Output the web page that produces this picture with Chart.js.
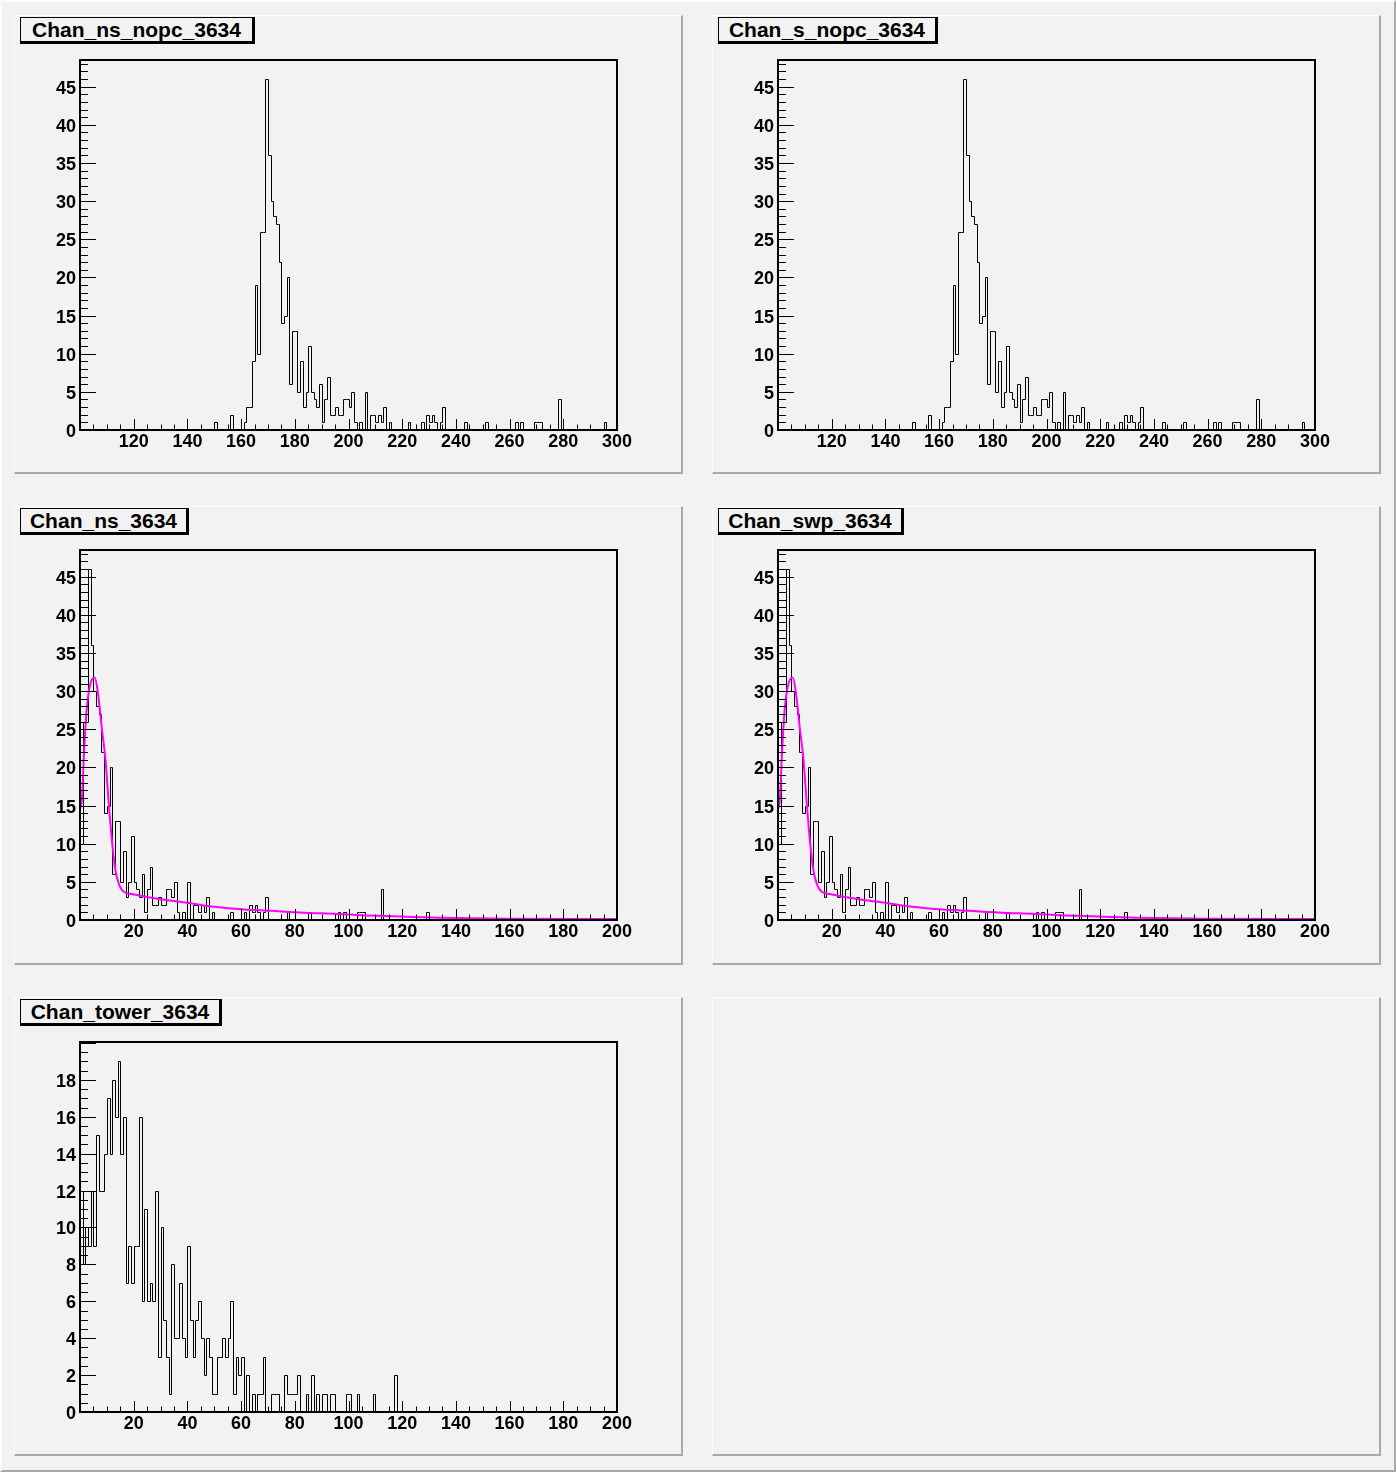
<!DOCTYPE html>
<html>
<head>
<meta charset="utf-8">
<title>Chan 3634</title>
<script src="https://cdn.jsdelivr.net/npm/chart.js"></script>
<style>
  html, body { margin: 0; padding: 0; background: #f2f2f2; }
  #cv { position: relative; width: 1396px; height: 1472px; box-sizing: border-box;
        border-top: 2px solid #fcfcfc; border-left: 2px solid #fcfcfc;
        border-right: 2px solid #a9a9a9; border-bottom: 2px solid #a9a9a9; }
  .pad { position: absolute; width: 669px; height: 459px; box-sizing: border-box; background: #f2f2f2;
         border-top: 1px solid #fcfcfc; border-left: 1px solid #fcfcfc;
         border-right: 2px solid #a9a9a9; border-bottom: 2px solid #a9a9a9; }
  canvas { position: absolute; }
  .title { position: absolute; height: 27px; box-sizing: border-box; background: #f2f2f2;
           border: 1px solid #000; border-right-width: 3px; border-bottom-width: 3px;
           font: bold 21px "Liberation Sans", Arial, sans-serif; line-height: 23px; text-align: center; color: #000; }
</style>
</head>
<body>
<div id="cv">
  <div class="pad" style="left:12px;top:13px"></div>
  <div class="pad" style="left:710px;top:13px"></div>
  <div class="pad" style="left:12px;top:504px"></div>
  <div class="pad" style="left:710px;top:504px"></div>
  <div class="pad" style="left:12px;top:995px"></div>
  <div class="pad" style="left:710px;top:995px"></div>

  <canvas id="h1" width="669" height="459" style="left:12px;top:13px"></canvas>
  <canvas id="h2" width="669" height="459" style="left:710px;top:13px"></canvas>
  <canvas id="h3" width="669" height="459" style="left:12px;top:503px"></canvas>
  <canvas id="h4" width="669" height="459" style="left:710px;top:503px"></canvas>
  <canvas id="h5" width="669" height="459" style="left:12px;top:995px"></canvas>

  <div class="title" style="left:18px;top:15px;width:235px">Chan_ns_nopc_3634</div>
  <div class="title" style="left:716px;top:15px;width:220px">Chan_s_nopc_3634</div>
  <div class="title" style="left:18px;top:506px;width:169px">Chan_ns_3634</div>
  <div class="title" style="left:716px;top:506px;width:186px">Chan_swp_3634</div>
  <div class="title" style="left:18px;top:997px;width:202px">Chan_tower_3634</div>
</div>
<script>
    // ---- data (bin low edge, width 1) ----
    // Chan_ns_nopc_3634 (Chan_s_nopc_3634 looks identical)
    const nopcRange = [100, 300];
    const nopcBins = [150, 156, 161, 162, 163, 164, 165, 166, 167, 168,
                      169, 170, 171, 172, 173, 174, 175, 176, 177, 178,
                      179, 180, 181, 182, 183, 184, 185, 186, 187, 188,
                      189, 190, 191, 192, 193, 194, 195, 196, 197, 198,
                      199, 200, 201, 202, 204, 206, 208, 209, 210, 211,
                      212, 213, 215, 222, 227, 229, 230, 231, 232, 234,
                      235, 243, 251, 262, 264, 269, 270, 271, 278, 295];
    const nopcCounts = [1, 2, 1, 3, 3, 9, 19, 10, 26, 26,
                        46, 36, 30, 28, 27, 22, 14, 15, 20, 6,
                        13, 13, 5, 9, 3, 5, 11, 5, 4, 3,
                        6, 1, 4, 7, 2, 2, 3, 2, 2, 4,
                        4, 3, 5, 1, 1, 5, 2, 2, 1, 2,
                        1, 3, 1, 1, 1, 2, 1, 2, 1, 1,
                        3, 1, 1, 1, 1, 1, 1, 1, 4, 1];

    // Chan_ns_3634 (Chan_swp_3634 looks identical)
    const nsRange = [0, 200];
    const nsBins = [0, 1, 2, 3, 4, 5, 6, 7, 8, 9,
                    10, 11, 12, 13, 14, 15, 16, 17, 18, 19,
                    20, 21, 22, 23, 24, 25, 26, 27, 28, 29,
                    30, 31, 32, 33, 34, 35, 36, 38, 40, 42,
                    43, 44, 45, 46, 47, 49, 56, 61, 63, 64,
                    65, 66, 68, 69, 77, 85, 96, 98, 103, 104,
                    105, 112, 129];
    const nsCounts = [10, 26, 26, 46, 36, 30, 28, 27, 22, 14,
                      15, 20, 6, 13, 13, 5, 9, 3, 5, 11,
                      5, 4, 3, 6, 1, 4, 7, 2, 2, 3,
                      2, 2, 4, 4, 3, 5, 1, 1, 5, 2,
                      2, 1, 2, 1, 3, 1, 1, 1, 2, 1,
                      2, 1, 1, 3, 1, 1, 1, 1, 1, 1,
                      1, 4, 1];
    // fitted curve (magenta)
    const fitX = [0, 0.75, 1.5, 2.6, 3.9, 5.5, 6.7, 8.2, 9.5, 10.7, 12, 13.2, 14.4, 16.3, 19.4,
                  24.4, 30.6, 39.2, 46.2, 58.7, 71.1, 83.5, 95.9, 105, 117, 134, 159, 200];
    const fitY = [14.5, 16, 22, 28, 31, 31.8, 29.7, 24.9, 21, 15.3, 10, 6.5, 4.8, 3.7, 3.4,
                  3.05, 2.7, 2.3, 1.9, 1.45, 1.2, 0.95, 0.8, 0.62, 0.48, 0.3, 0.18, 0.13];

    // Chan_tower_3634, consecutive bins starting at 0
    const towerRange = [0, 200];
    const towerCounts = [12, 8, 10, 9, 12, 9, 15, 12, 12, 14,
                         17, 14, 18, 16, 19, 14, 16, 7, 9, 7,
                         9, 9, 16, 6, 11, 6, 7, 6, 12, 3,
                         10, 5, 3, 1, 8, 4, 4, 7, 4, 3,
                         9, 5, 3, 5, 6, 4, 2, 4, 3, 1,
                         1, 3, 3, 4, 3, 4, 6, 1, 3, 2,
                         3, 0, 2, 0, 1, 0, 1, 1, 3, 0,
                         0, 1, 1, 1, 0, 0, 2, 1, 1, 1,
                         1, 2, 0, 0, 1, 0, 2, 0, 1, 0,
                         1, 1, 0, 1, 1, 0, 0, 0, 0, 1,
                         1, 0, 0, 1, 0, 0, 0, 0, 0, 1,
                         0, 0, 0, 0, 0, 0, 0, 2];
    const towerBins = towerCounts.map((c, i) => i);

    // ---- helpers ----
    function histPoints(range, bins, counts) {
        const map = {};
        bins.forEach((b, i) => { map[b] = counts[i]; });
        const pts = [{x: range[0], y: 0}];
        for (let b = range[0]; b < range[1]; b++) pts.push({x: b, y: map[b] || 0});
        pts.push({x: range[1], y: 0});
        return pts;
    }

    function isMult(v, step) {
        return Math.abs(v / step - Math.round(v / step)) < 1e-6;
    }

    // snap histogram outline to the pixel grid so it stays a crisp 1px line
    const crispSteps = {
        id: 'crispSteps',
        beforeDatasetsDraw(chart) {
            chart.getSortedVisibleDatasetMetas().forEach(meta => {
                if (!meta.dataset || !meta.dataset.options.stepped) return;
                meta.data.forEach(p => {
                    p.x = Math.round(p.x) + 0.5;
                    p.y = Math.round(p.y) + 0.5;
                });
            });
        }
    };

    // ROOT style frame + inward ticks
    const rootFrame = {
        id: 'rootFrame',
        afterDatasetsDraw(chart, args, o) {
            const ctx = chart.ctx, a = chart.chartArea;
            const x = chart.scales.x, y = chart.scales.y;
            ctx.save();
            ctx.strokeStyle = '#000';
            ctx.lineWidth = 1;
            ctx.beginPath();
            for (let v = x.min; v <= x.max + 1e-9; v += o.xMinor) {
                const px = Math.round(x.getPixelForValue(v)) + 0.5;
                const len = isMult(v, o.xMajor) ? 11 : 5.5;
                ctx.moveTo(px, a.bottom);
                ctx.lineTo(px, a.bottom - len);
            }
            for (let v = y.min; v <= y.max + 1e-9; v += o.yMinor) {
                const py = Math.round(y.getPixelForValue(v)) + 0.5;
                const len = isMult(v, o.yMajor) ? 16 : 8;
                ctx.moveTo(a.left, py);
                ctx.lineTo(a.left + len, py);
            }
            ctx.stroke();
            ctx.lineWidth = 2;
            ctx.strokeRect(a.left, a.top, a.right - a.left, a.bottom - a.top);
            ctx.restore();
        }
    };

    const tickFont = {family: '"Liberation Sans", Arial, sans-serif', size: 18, weight: 'bold'};

    function makeChart(id, datasets, s) {
        const config = {
            type: 'line',
            data: {datasets: datasets},
            options: {
                responsive: false,
                animation: false,
                devicePixelRatio: 1,
                events: [],
                layout: {padding: {left: 0, top: 45, right: 66, bottom: 0}},
                plugins: {
                    legend: {display: false},
                    tooltip: {enabled: false},
                    rootFrame: {xMinor: s.xMinor, xMajor: s.xMajor, yMinor: s.yMinor, yMajor: s.yMajor}
                },
                scales: {
                    x: {
                        type: 'linear', min: s.range[0], max: s.range[1],
                        grid: {display: false, drawTicks: false}, border: {display: false},
                        ticks: {stepSize: s.xMajor, padding: 1, color: '#000', font: tickFont,
                                maxRotation: 0, autoSkip: false},
                        afterBuildTicks: sc => {
                            sc.ticks = sc.ticks.filter(t => t.value > s.range[0] && isMult(t.value, s.xMajor));
                        },
                        afterFit: sc => { sc.height = 44; }
                    },
                    y: {
                        type: 'linear', min: 0, max: s.ymax,
                        grid: {display: false, drawTicks: false}, border: {display: false},
                        ticks: {stepSize: s.yMajor, padding: 4, labelOffset: 2, color: '#000', font: tickFont},
                        afterBuildTicks: sc => {
                            sc.ticks = sc.ticks.filter(t => isMult(t.value, s.yMajor) && t.value + 0.2 < s.ymax);
                        },
                        afterFit: sc => { sc.width = 66; }
                    }
                }
            },
            plugins: [crispSteps, rootFrame]
        };
        return new Chart(document.getElementById(id), config);
    }

    function histSet(points) {
        return {data: points, borderColor: '#000', borderWidth: 1, pointRadius: 0,
                fill: false, stepped: 'before', tension: 0};
    }

    function fitSet() {
        return {data: fitX.map((v, i) => ({x: v, y: fitY[i]})), borderColor: '#ff00ff', borderWidth: 2,
                pointRadius: 0, fill: false, cubicInterpolationMode: 'monotone'};
    }

    const nopcStyle = {range: nopcRange, xMinor: 5, xMajor: 20, yMinor: 1, yMajor: 5, ymax: 48.5};
    const nsStyle = {range: nsRange, xMinor: 5, xMajor: 20, yMinor: 1, yMajor: 5, ymax: 48.5};
    const towerStyle = {range: towerRange, xMinor: 5, xMajor: 20, yMinor: 0.5, yMajor: 2, ymax: 20.05};

    makeChart('h1', [histSet(histPoints(nopcRange, nopcBins, nopcCounts))], nopcStyle);
    makeChart('h2', [histSet(histPoints(nopcRange, nopcBins, nopcCounts))], nopcStyle);
    makeChart('h3', [fitSet(), histSet(histPoints(nsRange, nsBins, nsCounts))], nsStyle);
    makeChart('h4', [fitSet(), histSet(histPoints(nsRange, nsBins, nsCounts))], nsStyle);
    makeChart('h5', [histSet(histPoints(towerRange, towerBins, towerCounts))], towerStyle);
</script>
</body>
</html>
